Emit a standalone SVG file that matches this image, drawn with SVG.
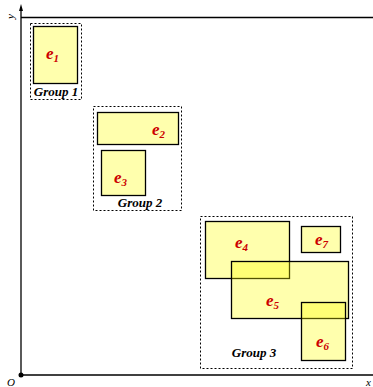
<svg xmlns="http://www.w3.org/2000/svg" width="373" height="387" viewBox="0 0 373 387">
<style>
.ax{stroke:#000;stroke-width:1.3;fill:none}
.grp{fill:none;stroke:#000;stroke-width:1;stroke-dasharray:2,2}
.el{fill:#ffff00;fill-opacity:0.32;stroke:#000;stroke-width:1.3}
.lab{font-family:"Liberation Serif",serif;font-style:italic;font-weight:bold;font-size:17px;fill:#cc0000}
.sub{font-size:11px}
.gl{font-family:"Liberation Serif",serif;font-style:italic;font-weight:bold;font-size:13px;fill:#000}
.axl{font-family:"Liberation Serif",serif;font-style:italic;font-size:11px;fill:#000}
</style>
<rect width="373" height="387" fill="#fff"/>
<g id="axes">
<line class="ax" x1="21" y1="375" x2="21" y2="9"/>
<polygon points="21,4 19,11 23,11" fill="#000"/>
<line class="ax" x1="21" y1="375" x2="373" y2="375"/>
<line class="ax" x1="21" y1="17.5" x2="373" y2="17.5"/>
<circle cx="21" cy="375" r="2.5" fill="#000"/>
<text class="axl" x="7" y="386">O</text>
<text class="axl" x="366" y="386">x</text>
<text class="axl" transform="translate(10,19) rotate(-90)" x="0" y="4">y</text>
</g>
<g id="group1">
<rect class="grp" x="30.5" y="23.5" width="51" height="76"/>
<text class="gl" x="56" y="96" text-anchor="middle">Group 1</text>
</g>
<g id="e1">
<rect class="el" x="33.5" y="26.5" width="44" height="57"/>
<text class="lab" x="46" y="59">e<tspan class="sub" dy="3">1</tspan></text>
</g>
<g id="group2">
<rect class="grp" x="93.5" y="106.5" width="88" height="104"/>
<text class="gl" x="140" y="207" text-anchor="middle">Group 2</text>
</g>
<g id="e2">
<rect class="el" x="97.5" y="112.5" width="81" height="32"/>
<text class="lab" x="152" y="135">e<tspan class="sub" dy="3">2</tspan></text>
</g>
<g id="e3">
<rect class="el" x="101.5" y="150.5" width="44" height="45"/>
<text class="lab" x="114" y="183">e<tspan class="sub" dy="3">3</tspan></text>
</g>
<g id="group3">
<rect class="grp" x="200.5" y="216.5" width="152" height="152"/>
<text class="gl" x="254" y="357" text-anchor="middle">Group 3</text>
</g>
<g id="e4">
<rect class="el" x="205.5" y="221.5" width="84" height="57"/>
<text class="lab" x="235" y="248">e<tspan class="sub" dy="3">4</tspan></text>
</g>
<g id="e7">
<rect class="el" x="301.5" y="226.5" width="39" height="26"/>
<text class="lab" x="315" y="245">e<tspan class="sub" dy="3">7</tspan></text>
</g>
<g id="e5">
<rect class="el" x="231.5" y="261.5" width="117" height="57"/>
<text class="lab" x="266" y="306">e<tspan class="sub" dy="3">5</tspan></text>
</g>
<g id="e6">
<rect class="el" x="301.5" y="302.5" width="44" height="58"/>
<text class="lab" x="316" y="347">e<tspan class="sub" dy="3">6</tspan></text>
</g>
</svg>
